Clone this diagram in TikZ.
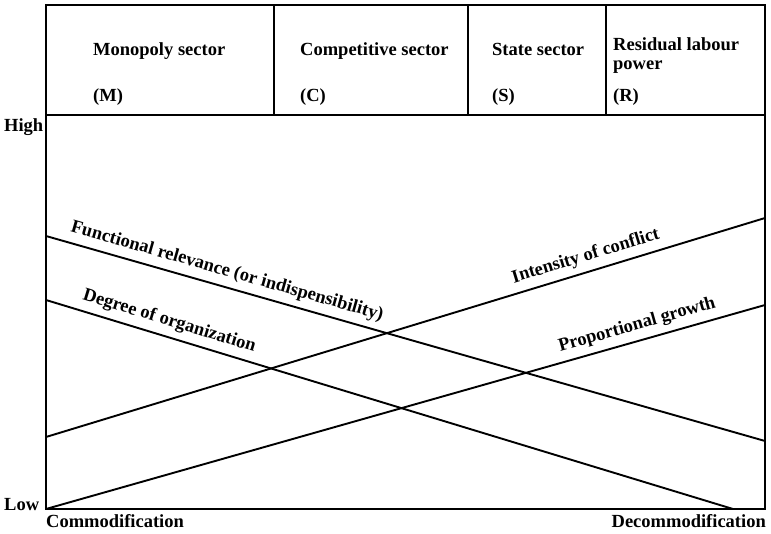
\documentclass[tikz,border=0pt]{standalone}
\usepackage{fontspec}
\setmainfont{Liberation Serif}
\begin{document}
\begin{tikzpicture}[x=1pt,y=-1pt,
  frame/.style={line width=1.6pt},
  curve/.style={line width=1.9pt},
  txt/.style={font=\fontsize{18.5}{21}\selectfont\bfseries, inner sep=0pt},
  lab/.style={txt, sloped, above=6pt}]
\useasboundingbox (0,0) rectangle (771,534);
% corner coordinates
\coordinate (tl) at (46,5);
\coordinate (tr) at (765,5);
\coordinate (hl) at (46,115);
\coordinate (hr) at (765,115);
\coordinate (bl) at (46,509);
\coordinate (br) at (765,509);
\coordinate (d1t) at (274,5);  \coordinate (d1b) at (274,115);
\coordinate (d2t) at (468,5);  \coordinate (d2b) at (468,115);
\coordinate (d3t) at (606,5);  \coordinate (d3b) at (606,115);
% frame
\draw[frame] (tl) -- (tr) -- (br) -- (bl) -- cycle;
\draw[frame] (hl) -- (hr);
\draw[frame] (d1t) -- (d1b);
\draw[frame] (d2t) -- (d2b);
\draw[frame] (d3t) -- (d3b);
% header texts
\node[txt, anchor=base west] (m1) at (93,56) {Monopoly sector};
\node[txt, anchor=base west] (m2) at (93,102) {(M)};
\node[txt, anchor=base west] (c1) at (300,56) {Competitive sector};
\node[txt, anchor=base west] (c2) at (300,102) {(C)};
\node[txt, anchor=base west] (s1) at (492,56) {State sector};
\node[txt, anchor=base west] (s2) at (492,102) {(S)};
\node[txt, anchor=base west] (r1) at (613,51) {Residual labour};
\node[txt, anchor=base west] (r2) at (613,70) {power};
\node[txt, anchor=base west] (r3) at (613,102) {(R)};
% axis labels
\node[txt, anchor=base west] (high) at (4,132) {High};
\node[txt, anchor=base west] (low) at (4,510) {Low};
\node[txt, anchor=base west] (com) at (46,527) {Commodification};
\node[txt, anchor=base east] (dec) at (766,527) {Decommodification};
% line end points
\coordinate (fra) at (46,236);  \coordinate (frb) at (765,441);
\coordinate (doa) at (46,300);  \coordinate (dob) at (733,509);
\coordinate (ica) at (46,437);  \coordinate (icb) at (765,218);
\coordinate (pga) at (46,509);  \coordinate (pgb) at (765,305);
% lines
\draw[curve] (fra) -- node[lab, pos=0.246] (frl) {Functional relevance (or indispensibility)} (frb);
\draw[curve] (doa) -- node[lab, pos=0.173] (dol) {Degree of organization} (dob);
\draw[curve] (ica) -- node[lab, pos=0.757] (icl) {Intensity of conflict} (icb);
\draw[curve] (pga) -- node[lab, pos=0.828] (pgl) {Proportional growth} (pgb);
\end{tikzpicture}
\end{document}
